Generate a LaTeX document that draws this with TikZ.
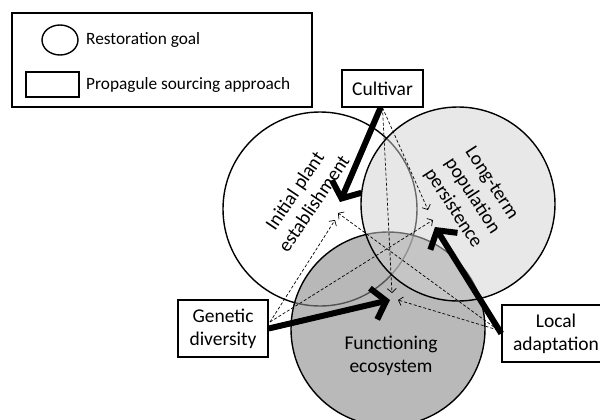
\documentclass[tikz,border=0pt]{standalone}
\usepackage{fontspec}
\setmainfont{Carlito}
\usetikzlibrary{arrows.meta,shapes.geometric}
\newcommand\mainfs{\fontsize{19.5}{23}\selectfont}
\newcommand\legfs{\fontsize{17.3}{20}\selectfont}
\begin{document}
\begin{tikzpicture}[x=1pt,y=-1pt,
  goal/.style={circle, draw=black, line width=1.4pt, minimum size=194pt, inner sep=0pt},
  srcbox/.style={draw=black, line width=1.4pt, fill=white, align=center, font=\mainfs, inner sep=0pt},
  bigarrow/.style={line width=6pt, -{Straight Barb[length=13pt,width=32pt]}},
  thinarrow/.style={line width=0.7pt, dash pattern=on 3pt off 2pt, -{Straight Barb[length=4pt,width=9pt]}},
  lbl/.style={align=center, font=\mainfs}
]
\useasboundingbox (0,0) rectangle (600,420);
% legend
\node[draw=black, line width=2pt, minimum width=300pt, minimum height=94pt, inner sep=0pt] (legend) at (162,60) {};
\node[ellipse, draw=black, line width=1.4pt, minimum width=36pt, minimum height=30pt, inner sep=0pt] (legell) at (60,40) {};
\node[draw=black, line width=1.4pt, minimum width=53pt, minimum height=25pt, inner sep=0pt] (legrect) at (52.5,84.5) {};
\node[anchor=west, font=\legfs, inner sep=0pt] (legt1) at (86,40) {Restoration goal};
\node[anchor=west, font=\legfs, inner sep=0pt] (legt2) at (86,84.5) {Propagule sourcing approach};
% goals
\node[goal, fill=white] (ini) at (320,209) {};
\node[goal, fill=black!46, fill opacity=0.6] (fun) at (388,329) {};
\node[goal, fill=black!18, fill opacity=0.5] (per) at (458,204) {};
\node[lbl, rotate=56] (initxt) at (304,197) {Initial plant\\establishment};
\node[lbl, rotate=-57] (pertxt) at (472,196) {Long-term\\population\\persistence};
\node[lbl] (funtxt) at (391,356) {Functioning\\ecosystem};
% sourcing approaches
\node[srcbox, minimum width=81pt, minimum height=37pt] (cult) at (382.5,88.5) {Cultivar};
\node[srcbox, minimum width=90pt, minimum height=57pt] (gen) at (223,328.5) {Genetic\\diversity};
\node[srcbox, minimum width=108pt, minimum height=57pt] (loc) at (556,333.5) {Local\\adaptation};
% targets
\coordinate (tIniC) at (340,202);
\coordinate (tIniG) at (335,220);
\coordinate (tIniL) at (338,213);
\coordinate (tPerC) at (428,210);
\coordinate (tPerG) at (433,220);
\coordinate (tPerL) at (435,227);
\coordinate (tFunC) at (392,293);
\coordinate (tFunG) at (390,300);
\coordinate (tFunL) at (398,300);
\coordinate (sG) at (270,322);
\coordinate (sL) at (498,330);
% dashed
\draw[thinarrow] (cult.south) -- (tFunC);
\draw[thinarrow] (cult.south) -- (tPerC);
\draw[thinarrow] (sG) -- (tIniG);
\draw[thinarrow] (sG) -- (tPerG);
\draw[thinarrow] (sL) -- (tFunL);
\draw[thinarrow] (sL) -- (tIniL);
% thick
\draw[bigarrow] ([xshift=-2pt]cult.south) -- (tIniC);
\draw[bigarrow] (gen.east) -- (tFunG);
\draw[bigarrow] (loc.west) -- (tPerL);
\end{tikzpicture}
\end{document}
